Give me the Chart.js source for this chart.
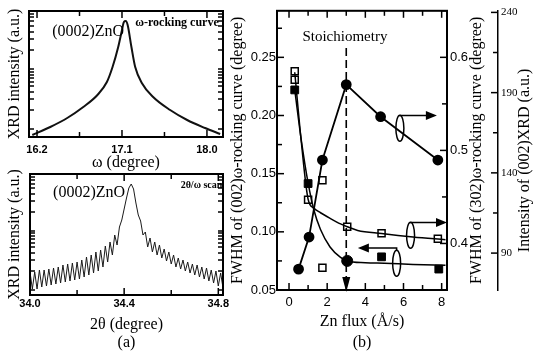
<!DOCTYPE html>
<html>
<head>
<meta charset="utf-8">
<script src="https://cdn.jsdelivr.net/npm/chart.js@4.4.1/dist/chart.umd.min.js"></script>
<style>
    body { margin: 0; background: #fff; }
    #wrap { position: relative; width: 535px; height: 354px; overflow: hidden; }
    canvas { position: absolute; }
</style>
</head>
<body>
<div id="wrap">
    <canvas id="rockChart" width="232" height="172" style="left:0;top:0"></canvas>
    <canvas id="scanChart" width="232" height="198" style="left:0;top:156px"></canvas>
    <canvas id="fluxChart" width="309" height="354" style="left:226px;top:0"></canvas>
</div>
<script>
// (a) top: omega rocking curve of (0002)ZnO
const omega = [16.15, 16.34, 16.52, 16.69, 16.84, 16.94, 17.0, 17.06, 17.1, 17.12, 17.14, 17.16, 17.2, 17.24, 17.31, 17.43, 17.61, 17.79, 17.98, 18.14];
const rockIntensity = [2, 10, 19, 30, 42, 55, 70, 90, 107, 115, 116, 112, 90, 70, 54, 40, 27, 17, 9, 3];
const omegaTicks = [16.2, 16.65, 17.1, 17.55, 18.0];
const omegaTickLabels = ['16.2', '', '17.1', '', '18.0'];
const rockYTicks = [8, 27, 38, 45, 51, 55, 59, 62, 65, 68, 87, 98, 105, 111, 116, 120, 123];

// (a) bottom: 2theta/omega scan with thickness fringes
const twoTheta = [
    34.00, 34.01, 34.02, 34.03, 34.04, 34.05, 34.06, 34.07, 34.08, 34.09,
    34.10, 34.11, 34.12, 34.13, 34.14, 34.15, 34.16, 34.17, 34.18, 34.19,
    34.20, 34.21, 34.22, 34.23, 34.24, 34.25, 34.26, 34.27, 34.28, 34.29,
    34.30, 34.31, 34.32, 34.33, 34.34, 34.35, 34.36, 34.37, 34.38, 34.39,
    34.40, 34.41, 34.42, 34.43, 34.44, 34.45, 34.46, 34.47, 34.48, 34.49,
    34.50, 34.51, 34.52, 34.53, 34.54, 34.55, 34.56, 34.57, 34.58, 34.59,
    34.60, 34.61, 34.62, 34.63, 34.64, 34.65, 34.66, 34.67, 34.68, 34.69,
    34.70, 34.71, 34.72, 34.73, 34.74, 34.75, 34.76, 34.77, 34.78, 34.79,
    34.80, 34.81, 34.82, 34.83
];
const scanIntensity = [
    23, 6, 23, 6, 25, 8, 25, 9, 26, 10,
    27, 11, 28, 12, 30, 13, 31, 14, 32, 15,
    33, 16, 35, 18, 38, 20, 40, 22, 43, 24,
    45, 28, 49, 33, 53, 40, 60, 50, 68, 75,
    86, 97, 107, 111, 106, 92, 80, 74, 60, 63,
    48, 57, 43, 53, 40, 50, 37, 46, 34, 43,
    31, 40, 28, 37, 26, 35, 24, 33, 22, 31,
    20, 30, 18, 28, 16, 27, 14, 25, 12, 24,
    9, 22, 7, 21
];
const twoThetaTicks = [34.0, 34.2, 34.4, 34.6, 34.8];
const twoThetaTickLabels = ['34.0', '', '34.4', '', '34.8'];
const scanYTicks = [5, 24, 35, 42, 48, 52, 56, 59, 62, 64, 83, 94, 101, 107, 111, 115, 118];

// (b) Zn flux dependence
const circleFlux = [0.5, 1.05, 1.75, 3.0, 4.8, 7.8];
const xrdIntensity = [80, 100, 148, 195, 175, 148];

const fwhm002Flux = [0.3, 1.0, 3.05, 4.85, 7.85];
const fwhm002 = [0.222, 0.1415, 0.075, 0.0785, 0.068];
const fwhm002Marker = ['rect', 'rect', 'circle', 'rect', 'rect'];
const fit002Flux = [0.3, 0.65, 1.0, 1.3, 1.65, 2.15, 2.7, 3.05, 4.0, 5.0, 6.5, 8.2];
const fit002 = [0.222, 0.178, 0.142, 0.119, 0.102, 0.087, 0.078, 0.075, 0.0735, 0.073, 0.072, 0.0712];

const fwhm302Flux = [0.3, 0.3, 1.0, 1.75, 1.75, 3.05, 4.85, 7.8];
const fwhm302 = [0.585, 0.576, 0.447, 0.468, 0.374, 0.418, 0.411, 0.405];
const fit302Flux = [0.3, 0.65, 1.0, 1.3, 1.65, 2.15, 2.7, 3.05, 3.6, 4.85, 6.5, 8.2];
const fit302 = [0.584, 0.508, 0.4475, 0.438, 0.433, 0.427, 0.421, 0.418, 0.414, 0.4107, 0.407, 0.404];

const fluxTicks = [0, 1, 2, 3, 4, 5, 6, 7, 8];
const fluxTickLabels = ['0', '', '2', '', '4', '', '6', '', '8'];
const fwhm002Ticks = [0.05, 0.075, 0.1, 0.125, 0.15, 0.175, 0.2, 0.225, 0.25, 0.275];
const fwhm002TickLabels = ['0.05', '', '0.10', '', '0.15', '', '0.20', '', '0.25', ''];
const fwhm302Ticks = [0.35, 0.4, 0.45, 0.5, 0.55, 0.6, 0.65];
const fwhm302TickLabels = ['', '0.4', '', '0.5', '', '0.6', ''];
const intensityTicks = [90, 115, 140, 165, 190, 215, 240];
const intensityTickLabels = ['90', '', '140', '', '190', '', '240'];

// annotations, in data units of the flux chart (x, left y axis)
const stoichFlux = 3.0;
const stoichTop = 0.258;
const callouts = [
    { flux: 5.81, value: 0.189, lineValue: 0.200, tipFlux: 7.75 },
    { flux: 6.37, value: 0.097, lineValue: 0.108, tipFlux: 8.28 },
    { flux: 5.64, value: 0.073, lineValue: 0.086, tipFlux: 3.61 }
];

const serif = '"Liberation Serif", "Times New Roman", serif';
const sans = '"Liberation Sans", Arial, sans-serif';

function pairs(xs, ys) {
    return xs.map((x, i) => ({ x: x, y: ys[i] }));
}

function fixedTicks(values) {
    return s => { s.ticks = values.map(v => ({ value: v })); };
}

// box round the plot area + inward tick marks
function frame(cfg) {
    return {
        id: 'frame',
        afterDraw(chart) {
            const { ctx, chartArea: a } = chart;
            ctx.save();
            ctx.setLineDash([]);
            ctx.strokeStyle = '#000';
            ctx.lineWidth = 2;
            ctx.strokeRect(a.left, a.top, a.right - a.left, a.bottom - a.top);
            ctx.lineWidth = 1.5;
            cfg.forEach(([id, sides]) => {
                const s = chart.scales[id];
                s.getTicks().forEach(t => {
                    const p = s.getPixelForValue(t.value);
                    const len = t.label ? 7 : 5;
                    sides.forEach(side => {
                        ctx.beginPath();
                        if (side === 'top') { ctx.moveTo(p, a.top); ctx.lineTo(p, a.top + len); }
                        if (side === 'bottom') { ctx.moveTo(p, a.bottom); ctx.lineTo(p, a.bottom - len); }
                        if (side === 'left') { ctx.moveTo(a.left, p); ctx.lineTo(a.left + len, p); }
                        if (side === 'right') { ctx.moveTo(a.right, p); ctx.lineTo(a.right - len, p); }
                        if (side === 'axis') { ctx.moveTo(s.left, p); ctx.lineTo(s.left - len, p); }
                        ctx.stroke();
                    });
                });
            });
            ctx.restore();
        }
    };
}

// text placed in data coordinates
function notes(items) {
    return {
        id: 'notes',
        afterDraw(chart) {
            const ctx = chart.ctx;
            ctx.save();
            ctx.fillStyle = '#000';
            ctx.textBaseline = 'middle';
            items.forEach(n => {
                ctx.font = n.font;
                ctx.textAlign = n.align;
                ctx.fillText(n.text, chart.scales.x.getPixelForValue(n.x), chart.scales.y.getPixelForValue(n.y));
            });
            ctx.restore();
        }
    };
}

// titles of the right hand axes, read bottom to top
function sideTitles(items) {
    return {
        id: 'sideTitles',
        afterDraw(chart) {
            const ctx = chart.ctx;
            items.forEach(t => {
                const s = chart.scales[t.scale];
                ctx.save();
                ctx.translate(s.left + t.offset, (s.top + s.bottom) / 2 + t.shift);
                ctx.rotate(-Math.PI / 2);
                ctx.font = `16px ${serif}`;
                ctx.fillStyle = '#000';
                ctx.textAlign = 'center';
                ctx.textBaseline = 'middle';
                ctx.fillText(t.text, 0, 0);
                ctx.restore();
            });
        }
    };
}

const fluxMarks = {
    id: 'fluxMarks',
    afterDatasetsDraw(chart) {
        const { ctx, chartArea: a, scales: { x, y } } = chart;
        ctx.save();
        ctx.strokeStyle = '#000';
        ctx.fillStyle = '#000';
        const sx = x.getPixelForValue(stoichFlux);
        ctx.lineWidth = 1.6;
        ctx.setLineDash([8, 4]);
        ctx.beginPath();
        ctx.moveTo(sx, y.getPixelForValue(stoichTop));
        ctx.lineTo(sx, a.bottom - 10);
        ctx.stroke();
        ctx.setLineDash([]);
        ctx.beginPath();
        ctx.moveTo(sx - 4, a.bottom - 13);
        ctx.lineTo(sx + 4, a.bottom - 13);
        ctx.lineTo(sx, a.bottom + 2);
        ctx.closePath();
        ctx.fill();

        callouts.forEach(c => {
            const cx = x.getPixelForValue(c.flux);
            const cy = y.getPixelForValue(c.value);
            const ly = y.getPixelForValue(c.lineValue);
            const tx = x.getPixelForValue(c.tipFlux);
            const dir = Math.sign(tx - cx);
            ctx.lineWidth = 1.5;
            ctx.beginPath();
            ctx.ellipse(cx, cy, 4, 13, 0, 0, Math.PI * 2);
            ctx.stroke();
            ctx.beginPath();
            ctx.moveTo(cx, cy - 13);
            ctx.lineTo(cx, ly);
            ctx.lineTo(tx - dir * 9, ly);
            ctx.stroke();
            ctx.beginPath();
            ctx.moveTo(tx, ly);
            ctx.lineTo(tx - dir * 11, ly - 4.5);
            ctx.lineTo(tx - dir * 11, ly + 4.5);
            ctx.closePath();
            ctx.fill();
        });
        ctx.restore();
    }
};

const noGrid = { display: false, drawTicks: false };
const noBorder = { display: false };

Chart.defaults.color = '#000';
Chart.defaults.animation = false;
Chart.defaults.plugins.legend.display = false;
Chart.defaults.plugins.tooltip.enabled = false;

// (a) rocking curve
new Chart(document.getElementById('rockChart'), {
    type: 'line',
    data: {
        datasets: [{
            data: pairs(omega, rockIntensity),
            borderColor: '#111',
            borderWidth: 2,
            pointRadius: 0,
            cubicInterpolationMode: 'monotone'
        }]
    },
    options: {
        responsive: false,
        layout: { padding: { top: 11, right: 9, left: 0, bottom: 0 } },
        scales: {
            x: {
                type: 'linear', min: 16.115, max: 18.17,
                afterBuildTicks: fixedTicks(omegaTicks),
                afterFit: s => { s.height = 35; },
                grid: noGrid, border: noBorder,
                ticks: { callback: (v, i) => omegaTickLabels[i], autoSkip: false, maxRotation: 0, padding: 6.4, font: { family: sans, size: 11, weight: 'bold' } },
                title: { display: true, text: 'ω (degree)', padding: 0, font: { family: serif, size: 16 } }
            },
            y: {
                min: 0, max: 126,
                afterBuildTicks: fixedTicks(rockYTicks),
                afterFit: s => { s.width = 29; },
                grid: noGrid, border: noBorder,
                ticks: { display: false, callback: () => '' },
                title: { display: true, text: 'XRD intensity (a.u.)', padding: { top: 5, bottom: 0 }, font: { family: serif, size: 16 } }
            }
        }
    },
    plugins: [
        frame([['x', ['top', 'bottom']], ['y', ['left', 'right']]]),
        notes([
            { text: '(0002)ZnO', x: 16.36, y: 105, font: `16px ${serif}`, align: 'left' },
            { text: 'ω-rocking curve', x: 17.24, y: 114, font: `bold 12px ${serif}`, align: 'left' }
        ])
    ]
});

// (a) 2theta/omega scan
new Chart(document.getElementById('scanChart'), {
    type: 'line',
    data: {
        datasets: [{
            data: pairs(twoTheta, scanIntensity),
            borderColor: '#1a1a1a',
            borderWidth: 1,
            pointRadius: 0,
            tension: 0
        }]
    },
    options: {
        responsive: false,
        layout: { padding: { top: 18, right: 9, left: 0, bottom: 0 } },
        scales: {
            x: {
                type: 'linear', min: 34.0, max: 34.82,
                afterBuildTicks: fixedTicks(twoThetaTicks),
                afterFit: s => { s.height = 59; },
                grid: noGrid, border: noBorder,
                ticks: { callback: (v, i) => twoThetaTickLabels[i], autoSkip: false, maxRotation: 0, padding: 2.4, font: { family: sans, size: 11, weight: 'bold' } },
                title: { display: true, text: ['2θ (degree)', '(a)'], padding: { top: 0, bottom: 2 }, font: { family: serif, size: 16, lineHeight: 1.125 } }
            },
            y: {
                min: 0, max: 121,
                afterBuildTicks: fixedTicks(scanYTicks),
                afterFit: s => { s.width = 30; },
                grid: noGrid, border: noBorder,
                ticks: { display: false, callback: () => '' },
                title: { display: true, text: 'XRD intensity (a.u.)', padding: { top: 5, bottom: 0 }, font: { family: serif, size: 16 } }
            }
        }
    },
    plugins: [
        frame([['x', ['top', 'bottom']], ['y', ['left', 'right']]]),
        notes([
            { text: '(0002)ZnO', x: 34.098, y: 102, font: `16px ${serif}`, align: 'left' },
            { text: '2θ/ω scan', x: 34.64, y: 110, font: `bold 10px ${serif}`, align: 'left' }
        ])
    ]
});

// (b) FWHM and intensity against Zn flux
new Chart(document.getElementById('fluxChart'), {
    type: 'scatter',
    data: {
        datasets: [
            {
                data: pairs(fit002Flux, fit002),
                yAxisID: 'y', showLine: true, pointRadius: 0,
                borderColor: '#000', borderWidth: 1.5, cubicInterpolationMode: 'monotone'
            },
            {
                data: pairs(fit302Flux, fit302),
                yAxisID: 'y302', showLine: true, pointRadius: 0,
                borderColor: '#000', borderWidth: 1.5, cubicInterpolationMode: 'monotone'
            },
            {
                data: pairs(circleFlux, xrdIntensity),
                yAxisID: 'yInt', showLine: true, tension: 0,
                borderColor: '#000', borderWidth: 1.8,
                pointStyle: 'circle', pointRadius: 4.5, pointBackgroundColor: '#000', pointBorderColor: '#000'
            },
            {
                data: pairs(fwhm002Flux, fwhm002),
                yAxisID: 'y',
                pointStyle: fwhm002Marker, pointRadius: 5.5,
                pointBackgroundColor: '#000', pointBorderColor: '#000'
            },
            {
                data: pairs(fwhm302Flux, fwhm302),
                yAxisID: 'y302',
                pointStyle: 'rect', pointRadius: 5, pointBorderWidth: 1.5,
                pointBackgroundColor: '#fff', pointBorderColor: '#000'
            }
        ]
    },
    options: {
        responsive: false,
        layout: { padding: { top: 10, right: 0, left: 0, bottom: 0 } },
        scales: {
            x: {
                type: 'linear', min: -0.63, max: 8.28,
                afterBuildTicks: fixedTicks(fluxTicks),
                afterFit: s => { s.height = 64; },
                grid: noGrid, border: noBorder,
                ticks: { callback: (v, i) => fluxTickLabels[i], autoSkip: false, maxRotation: 0, padding: 4.2, font: { family: sans, size: 13 } },
                title: { display: true, text: ['Zn flux (Å/s)', '(b)'], padding: { top: 0, bottom: 0.5 }, font: { family: serif, size: 16, lineHeight: 1.3125 } }
            },
            y: {
                position: 'left', min: 0.05, max: 0.29,
                afterBuildTicks: fixedTicks(fwhm002Ticks),
                afterFit: s => { s.width = 51; },
                grid: noGrid, border: noBorder,
                ticks: { callback: (v, i) => fwhm002TickLabels[i], autoSkip: false, padding: 1, font: { family: sans, size: 13 } },
                title: { display: true, text: 'FWHM of (002)ω-rocking curve (degree)', padding: { top: 2.4, bottom: 0 }, font: { family: serif, size: 16 } }
            },
            y302: {
                position: 'right', weight: 1, min: 0.35, max: 0.65,
                afterBuildTicks: fixedTicks(fwhm302Ticks),
                afterFit: s => { s.width = 51; },
                grid: noGrid, border: noBorder,
                ticks: { callback: (v, i) => fwhm302TickLabels[i], autoSkip: false, padding: 3, font: { family: sans, size: 13 } }
            },
            yInt: {
                position: 'right', weight: 2, min: 67, max: 241,
                afterBuildTicks: fixedTicks(intensityTicks),
                afterFit: s => { s.width = 37; },
                grid: noGrid,
                border: { display: true, color: '#000', width: 1.5 },
                ticks: { callback: (v, i) => intensityTickLabels[i], autoSkip: false, padding: 3, font: { family: serif, size: 11 } }
            }
        }
    },
    plugins: [
        fluxMarks,
        frame([['x', ['top', 'bottom']], ['y', ['left']], ['y302', ['right']], ['yInt', ['axis']]]),
        notes([
            { text: 'Stoichiometry', x: 2.93, y: 0.267, font: `15px ${serif}`, align: 'center' }
        ]),
        sideTitles([
            { scale: 'y302', text: 'FWHM of (302)ω-rocking curve (degree)', offset: 30, shift: 0 },
            { scale: 'yInt', text: 'Intensity of (002)XRD (a.u.)', offset: 27, shift: 10 }
        ])
    ]
});
</script>
</body>
</html>
